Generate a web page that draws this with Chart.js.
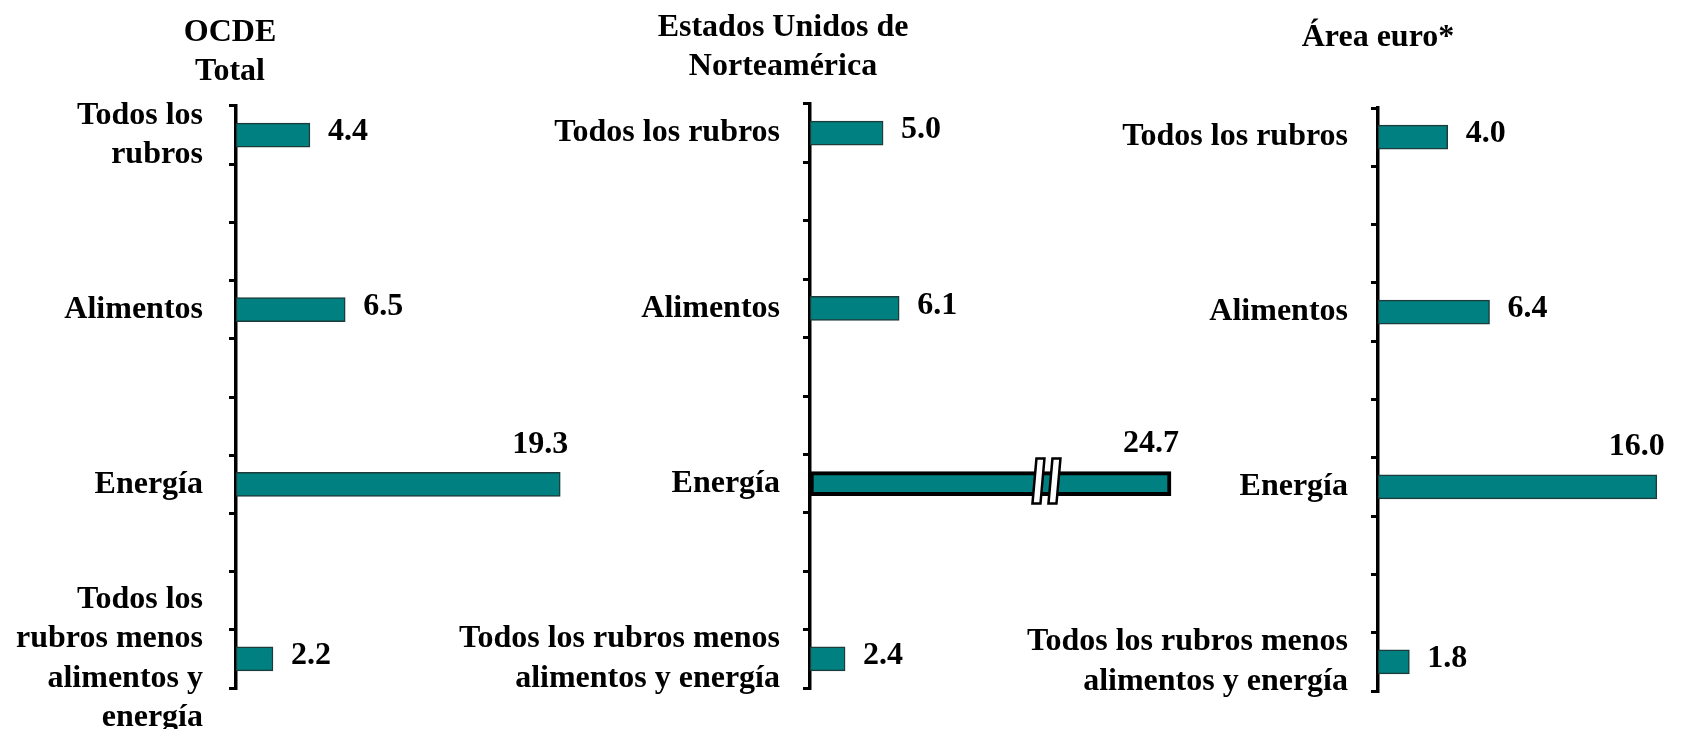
<!DOCTYPE html>
<html>
<head>
<meta charset="utf-8">
<script src="https://cdn.jsdelivr.net/npm/chart.js@4.4.0/dist/chart.umd.min.js"></script>
<style>
html, body { margin: 0; padding: 0; background: #fff; }
#wrap { position: relative; width: 1691px; height: 729px; overflow: hidden; }
.panel { position: absolute; top: 0; }
.title { position: absolute; text-align: center; white-space: nowrap; color: #000;
         font: bold 32px "Liberation Serif", "Times New Roman", serif; line-height: 39px; }
</style>
</head>
<body>
<div id="wrap">
  <canvas class="panel" id="c1"></canvas>
  <canvas class="panel" id="c2"></canvas>
  <canvas class="panel" id="c3"></canvas>
  <div class="title" id="t1" style="left:130px;top:11px;width:200px"></div>
  <div class="title" id="t2" style="left:633px;top:6px;width:300px"></div>
  <div class="title" id="t3" style="left:1228px;top:16px;width:300px"></div>
</div>
<script>
// titles
var ocdeTitle = ["OCDE", "Total"];
var usaTitle = ["Estados Unidos de", "Norteamérica"];
var euroTitle = ["Área euro*"];

// category labels, one set per panel (line breaks as in the original)
var ocdeLabels = [["Todos los", "rubros"], "Alimentos", "Energía",
                  ["Todos los", "rubros menos", "alimentos y", "energía"]];
var usaLabels = ["Todos los rubros", "Alimentos", "Energía",
                 ["Todos los rubros menos", "alimentos y energía"]];
var euroLabels = ["Todos los rubros", "Alimentos", "Energía",
                  ["Todos los rubros menos", "alimentos y energía"]];

// values
var ocdeValues = [4.4, 6.5, 19.3, 2.2];
var usaValues = [5.0, 6.1, 24.7, 2.4];
var euroValues = [4.0, 6.4, 16.0, 1.8];

// the axis has 10 rows, a category every 3 rows
var ROWS = 10, STEP = 3;
var FONT = '"Liberation Serif", "Times New Roman", serif';
var TEAL = "#008080";

function slotted(arr, empty) {
	var out = [];
	for (var r = 0; r < ROWS; r++) out.push(empty);
	arr.forEach(function (v, i) { out[i * STEP] = v; });
	return out;
}

//value labels + axis break marks
var valueLabels = {
	id: "valueLabels",
	afterDatasetsDraw: function (chart, args, opts) {
		var ctx = chart.ctx;
		var data = chart.data.datasets[0].data;
		var nums = data.filter(function (v) { return v != null; });
		var maxV = Math.max.apply(null, nums);
		var meta = chart.getDatasetMeta(0);
		ctx.save();
		meta.data.forEach(function (bar, i) {
			var v = data[i];
			if (v == null) return;
			var p = bar.getProps(["x", "y", "base"], true);
			if (v === maxV && opts.breakAt) {
				var cx = p.base + (p.x - p.base) * opts.breakAt;
				[-8, 8].forEach(function (dx) {
					var x0 = cx + dx, t = p.y - 25, b = p.y + 20;
					ctx.beginPath();
					ctx.moveTo(x0 - 2, t);
					ctx.lineTo(x0 + 6, t);
					ctx.lineTo(x0 + 2, b);
					ctx.lineTo(x0 - 6, b);
					ctx.closePath();
					ctx.fillStyle = "#fff";
					ctx.fill();
					ctx.lineWidth = 2.5;
					ctx.strokeStyle = "#000";
					ctx.stroke();
				});
			}
			ctx.font = "bold 32px " + FONT;
			ctx.fillStyle = "#000";
			ctx.textBaseline = "middle";
			if (v === maxV) {
				ctx.textAlign = "right";
				ctx.fillText(v.toFixed(1), p.x + 8, p.y - 40);
			} else {
				ctx.textAlign = "left";
				ctx.fillText(v.toFixed(1), p.x + 18, p.y - 3);
			}
		});
		ctx.restore();
	}
};

var panels = [
	{ canvas: "c1", title: "t1", titleLines: ocdeTitle, left: 0, axisX: 236, top: 106, bottom: 688,
	  xMax: 20, ppu: 16.8, pad: 26, labels: ocdeLabels, values: ocdeValues },
	{ canvas: "c2", title: "t2", titleLines: usaTitle, left: 430, axisX: 810, top: 104, bottom: 688,
	  xMax: 26, ppu: 14.6, pad: 23, labels: usaLabels, values: usaValues, breakAt: 0.655 },
	{ canvas: "c3", title: "t3", titleLines: euroTitle, left: 1000, axisX: 1378, top: 108, bottom: 691,
	  xMax: 17.5, ppu: 17.4, pad: 23, labels: euroLabels, values: euroValues }
];

panels.forEach(function (pn) {
	document.getElementById(pn.title).innerHTML = pn.titleLines.join("<br>");
	var yWidth = pn.axisX - pn.left;
	var cv = document.getElementById(pn.canvas);
	cv.width = Math.round(yWidth + pn.xMax * pn.ppu);
	cv.height = 729;
	cv.style.left = pn.left + "px";
	var data = slotted(pn.values, null);
	var maxV = Math.max.apply(null, pn.values);

	new Chart(cv, {
		type: "bar",
		data: {
			labels: slotted(pn.labels, ""),
			datasets: [{
				data: data,
				backgroundColor: TEAL,
				borderColor: function (c) { return (pn.breakAt && c.raw === maxV) ? "#000" : "#1d3b3b"; },
				borderWidth: function (c) { return (pn.breakAt && c.raw === maxV) ? 4 : 1.5; },
				borderSkipped: false,
				barThickness: 24
			}]
		},
		options: {
			indexAxis: "y",
			responsive: false,
			animation: false,
			layout: { padding: { top: pn.top, bottom: 729 - pn.bottom, left: 0, right: 0 } },
			plugins: {
				legend: { display: false },
				tooltip: { enabled: false },
				valueLabels: { breakAt: pn.breakAt }
			},
			scales: {
				x: { type: "linear", min: 0, max: pn.xMax, display: false },
				y: {
					type: "category",
					offset: true,
					border: { display: true, color: "#000", width: 3.5 },
					grid: { display: true, drawOnChartArea: false, drawTicks: true, tickLength: 7,
					        color: "#000", lineWidth: 3, offset: true },
					ticks: {
						autoSkip: false,
						color: "#000",
						padding: pn.pad,
						font: { family: FONT, size: 32, weight: "bold", lineHeight: 1.23 }
					},
					afterFit: function (scale) {
						scale.width = yWidth;
						scale.paddingTop = 0;
						scale.paddingBottom = 0;
					}
				}
			}
		},
		plugins: [valueLabels]
	});
});
</script>
</body>
</html>
